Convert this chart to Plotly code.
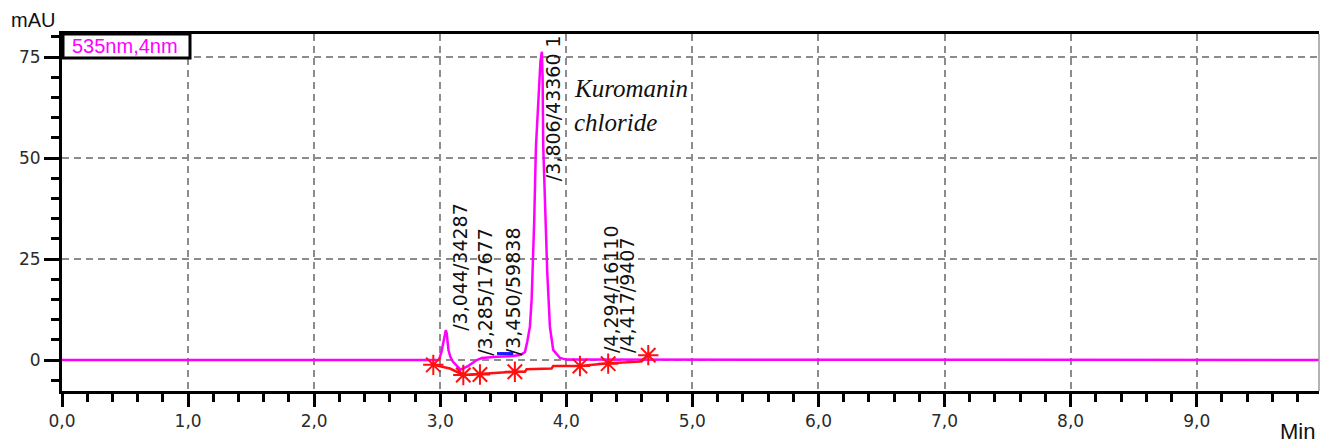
import plotly.graph_objects as go

# Chromatogram signal (535nm,4nm), retention time in min, absorbance in mAU
time_min = [0.0, 2.99, 3.01, 3.03, 3.044, 3.052, 3.065, 3.08, 3.10, 3.16, 3.22, 3.29, 3.33,
            3.45, 3.58, 3.64, 3.672, 3.69, 3.711, 3.725, 3.737, 3.745, 3.759, 3.78, 3.795,
            3.806, 3.812, 3.817, 3.83, 3.849, 3.87, 3.896, 3.95, 4.0, 10.0]
signal_mau = [0.0, 0.0, 2.0, 5.5, 7.4, 6.5, 2.5, 0.8, -0.4, -2.4, -1.5, 0.0, 0.5,
              0.8, 1.0, 1.3, 2.0, 4.5, 8.2, 15.0, 25.0, 34.0, 52.8, 66.0, 74.0,
              76.3, 70.0, 52.8, 37.9, 21.5, 8.2, 2.5, 0.5, 0.1, 0.0]

# Integration baseline (red) and its event markers
baseline_t = [2.945, 3.077, 3.183, 3.315, 3.592, 3.672, 3.685, 3.883, 3.896, 4.108, 4.332, 4.584, 4.65]
baseline_v = [-1.2, -2.1, -3.7, -3.4, -2.9, -2.9, -2.3, -2.1, -1.5, -1.5, -0.8, -0.4, 1.2]
marker_t = [2.945, 3.183, 3.315, 3.592, 4.108, 4.332, 4.65]
marker_v = [-1.2, -3.7, -3.6, -2.9, -1.5, -0.9, 1.2]

# Blue segment
blue_t = [3.45, 3.58]
blue_v = [1.6, 1.6]

# Peak labels (retention time / area)
peak_labels = ["/3,044/34287", "/3,285/17677", "/3,450/59838", "/3,806/43360 1",
               "/4,294/16110", "/4,417/9407"]
label_x = [3.156, 3.354, 3.577, 3.895, 4.354, 4.48]
label_y = [6.7, 0.5, 0.7, 43.8, 1.2, 1.2]

compound_lines = ["Kuromanin", "chloride"]
compound_x = [4.045, 4.045]
compound_y = [67.3, 58.9]

x_ticks = [0, 1, 2, 3, 4, 5, 6, 7, 8, 9]
y_ticks = [0, 25, 50, 75]

W, H = 1320, 443
L, R, T, B = 62, 1, 34, 52
PW, PH = W - L - R, H - T - B


def px(xp):
    return (xp - L) / PW


def py(yp):
    return (H - B - yp) / PH


RED = "#ff1010"

fig = go.Figure()
fig.add_trace(go.Scatter(x=time_min, y=signal_mau, mode="lines",
                         line=dict(color="#ff00ff", width=2.5), hoverinfo="skip"))
fig.add_trace(go.Scatter(x=baseline_t, y=baseline_v, mode="lines",
                         line=dict(color=RED, width=2.5), hoverinfo="skip"))
fig.add_trace(go.Scatter(x=marker_t, y=marker_v, mode="markers",
                         marker=dict(symbol="asterisk-open", size=17, color=RED,
                                     line=dict(color=RED, width=2)),
                         hoverinfo="skip"))
fig.add_trace(go.Scatter(x=blue_t, y=blue_v, mode="lines",
                         line=dict(color="#1a1aff", width=3), hoverinfo="skip"))

annotations = []
for t, xv, yv in zip(peak_labels, label_x, label_y):
    annotations.append(dict(x=xv, y=yv, xref="x", yref="y", text=t, textangle=-90,
                            showarrow=False, xanchor="center", yanchor="bottom",
                            font=dict(family="DejaVu Sans", size=19, color="#111111")))
for t, xv, yv in zip(compound_lines, compound_x, compound_y):
    annotations.append(dict(x=xv, y=yv, xref="x", yref="y", text="<i>" + t + "</i>",
                            showarrow=False, xanchor="left", yanchor="middle",
                            font=dict(family="Liberation Serif", size=25, color="#111111")))
annotations.append(dict(x=px(33), y=py(20), xref="paper", yref="paper", text="mAU",
                        showarrow=False, xanchor="center", yanchor="middle",
                        font=dict(family="Liberation Sans", size=20, color="#111111")))
annotations.append(dict(x=px(1297), y=py(431), xref="paper", yref="paper", text="Min",
                        showarrow=False, xanchor="center", yanchor="middle",
                        font=dict(family="Liberation Sans", size=22, color="#111111")))
annotations.append(dict(x=px(125), y=py(46), xref="paper", yref="paper", text="535nm,4nm",
                        showarrow=False, xanchor="center", yanchor="middle",
                        font=dict(family="Liberation Sans", size=20, color="#ff00ff")))

shapes = [
    dict(type="rect", xref="paper", yref="paper", x0=px(63), x1=px(190), y0=py(58), y1=py(34),
         line=dict(color="black", width=3), fillcolor="white", layer="above"),
    dict(type="line", xref="paper", yref="paper", x0=1, x1=1, y0=0, y1=1,
         line=dict(color="#9a9a9a", width=1.5)),
]

grid = dict(showgrid=True, gridcolor="#8c8c8c", gridwidth=2, griddash="7px,5px")

fig.update_layout(
    width=W, height=H,
    margin=dict(l=L, r=R, t=T, b=B),
    paper_bgcolor="white", plot_bgcolor="white",
    showlegend=False,
    separators=", ",
    annotations=annotations,
    shapes=shapes,
    xaxis=dict(range=[0, 9.97], tickvals=x_ticks, tickformat=".1f",
               showline=True, linecolor="black", linewidth=3, mirror=True,
               ticks="outside", ticklen=13, tickwidth=2.5, tickcolor="black",
               minor=dict(dtick=0.2, tick0=0, ticks="outside", ticklen=8, tickwidth=2.5,
                          tickcolor="black", showgrid=False),
               tickfont=dict(family="DejaVu Sans", size=17, color="#2a2a2a"),
               zeroline=False, **grid),
    yaxis=dict(range=[-7.67, 80.7], tickvals=y_ticks,
               showline=True, linecolor="black", linewidth=3,
               ticks="outside", ticklen=15, tickwidth=2.5, tickcolor="black",
               minor=dict(dtick=5, tick0=0, ticks="outside", ticklen=8, tickwidth=2.5,
                          tickcolor="black", showgrid=False),
               tickfont=dict(family="DejaVu Sans", size=17, color="#2a2a2a"),
               zeroline=False, **grid),
)

fig.write_html("out.html")
